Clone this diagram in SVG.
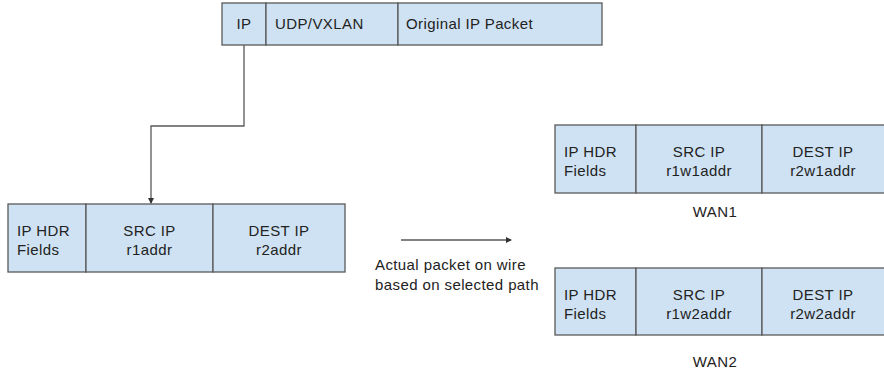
<svg xmlns="http://www.w3.org/2000/svg" width="884" height="377" viewBox="0 0 884 377">
<style>
.cell{fill:#cfe2f3;stroke:#595959;stroke-width:1.3}
.t{font-family:"Liberation Sans",Arial,sans-serif;font-size:15px;letter-spacing:0.4px;fill:#222}
.c{text-anchor:middle}
.ln{fill:none;stroke:#595959;stroke-width:1.3}
</style>
<defs>
<marker id="ah" markerWidth="6" markerHeight="6" refX="5" refY="3" orient="auto" markerUnits="userSpaceOnUse">
<path d="M0,0 L6,3 L0,6 z" fill="#333"/>
</marker>
</defs>
<rect width="884" height="377" fill="#fff"/>
<g id="encap">
<rect class="cell" x="222" y="3" width="44" height="42"/>
<rect class="cell" x="266" y="3" width="132" height="42"/>
<rect class="cell" x="398" y="3" width="204" height="42"/>
<text class="t c" x="244" y="29">IP</text>
<text class="t" x="275" y="29">UDP/VXLAN</text>
<text class="t" x="406" y="29">Original IP Packet</text>
</g>
<g id="orig">
<rect class="cell" x="8" y="204" width="78" height="68"/>
<rect class="cell" x="86" y="204" width="127" height="68"/>
<rect class="cell" x="213" y="204" width="132" height="68"/>
<text class="t" x="17" y="236">IP HDR</text>
<text class="t" x="17" y="255">Fields</text>
<text class="t c" x="149.5" y="236">SRC IP</text>
<text class="t c" x="149.5" y="255">r1addr</text>
<text class="t c" x="279" y="236">DEST IP</text>
<text class="t c" x="279" y="255">r2addr</text>
</g>
<g id="wan1">
<rect class="cell" x="555" y="125" width="81" height="68"/>
<rect class="cell" x="636" y="125" width="126" height="68"/>
<rect class="cell" x="762" y="125" width="124" height="68"/>
<text class="t" x="564" y="157">IP HDR</text>
<text class="t" x="564" y="176">Fields</text>
<text class="t c" x="699" y="157">SRC IP</text>
<text class="t c" x="699" y="176">r1w1addr</text>
<text class="t c" x="823" y="157">DEST IP</text>
<text class="t c" x="823" y="176">r2w1addr</text>
<text class="t c" x="715" y="217">WAN1</text>
</g>
<g id="wan2">
<rect class="cell" x="555" y="268" width="81" height="67"/>
<rect class="cell" x="636" y="268" width="126" height="67"/>
<rect class="cell" x="762" y="268" width="124" height="67"/>
<text class="t" x="564" y="300">IP HDR</text>
<text class="t" x="564" y="319">Fields</text>
<text class="t c" x="699" y="300">SRC IP</text>
<text class="t c" x="699" y="319">r1w2addr</text>
<text class="t c" x="823" y="300">DEST IP</text>
<text class="t c" x="823" y="319">r2w2addr</text>
<text class="t c" x="715" y="367">WAN2</text>
</g>
<g id="connectors">
<path class="ln" d="M244,45 V126 H151 V203" marker-end="url(#ah)"/>
<path class="ln" d="M401,240 H511" marker-end="url(#ah)"/>
</g>
<g id="caption">
<text class="t" x="375" y="270">Actual packet on wire</text>
<text class="t" x="375" y="290">based on selected path</text>
</g>
</svg>
